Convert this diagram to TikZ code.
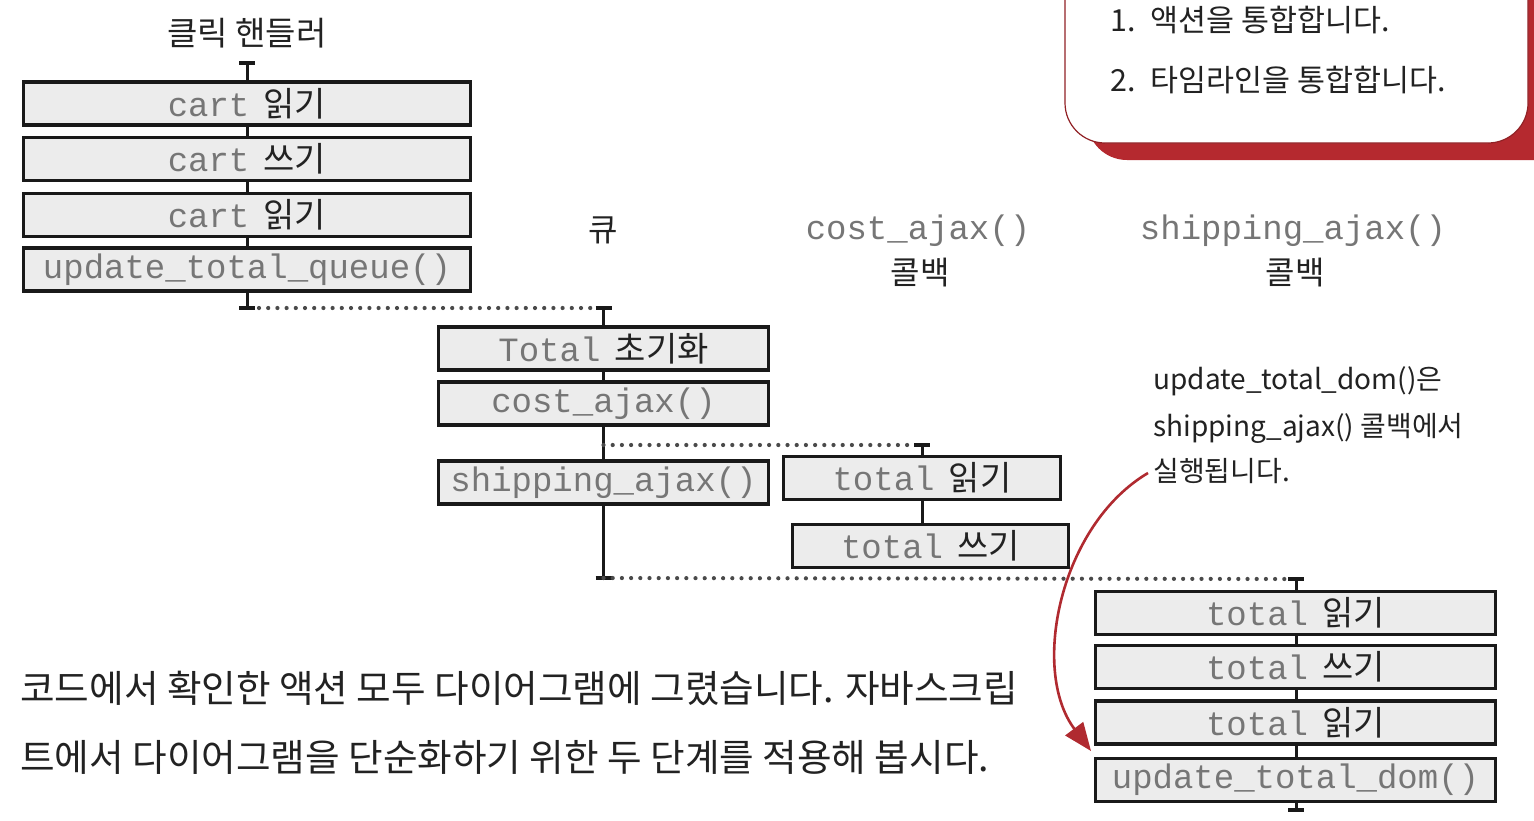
\documentclass[tikz,border=0pt]{standalone}
\usepackage{fontspec}
\setmainfont{Noto Sans CJK KR}
\setmonofont{Liberation Mono}
\usetikzlibrary{arrows.meta,calc}
\definecolor{boxgray}{HTML}{ECECEC}
\definecolor{monogray}{HTML}{767676}
\definecolor{dotgray}{HTML}{4A4A4A}
\definecolor{calloutred}{HTML}{B5292F}
\definecolor{arrowred}{HTML}{B02A30}
\definecolor{ink}{HTML}{222222}
\newcommand\mt[1]{{\ttfamily\color{monogray}#1}}
\newcommand\gap{\hspace{0.42em}}
\begin{document}
\begin{tikzpicture}[x=0.5pt,y=-0.5pt,
  act/.style={draw=black!90, line width=1.6pt, fill=boxgray, inner sep=0pt,
    minimum height=21.5pt, text=ink, font=\fontsize{17}{20}\selectfont},
  conn/.style={draw=black!90, line width=1.5pt},
  tickbar/.style={draw=black!90, line width=1.6pt},
  dots/.style={draw=dotgray, line width=2.1pt, line cap=round, dash pattern=on 0pt off 4.6pt},
  lbl/.style={text=ink, font=\fontsize{16}{19}\selectfont, inner sep=0pt},
  monolbl/.style={text=monogray, font=\fontsize{17}{20}\selectfont\ttfamily, inner sep=0pt},
  note/.style={text=ink, font=\fontsize{14}{16}\selectfont, inner sep=0pt, anchor=west},
  para/.style={text=ink, font=\fontsize{18.8}{22}\selectfont, inner sep=0pt, anchor=west},
  call/.style={text=ink, font=\fontsize{15.2}{18}\selectfont, inner sep=0pt, anchor=west},
  redarrow/.style={draw=arrowred, line width=1.3pt, -{Triangle[length=14pt,width=11pt]}}
]
\useasboundingbox (0,0) rectangle (1534,820);

% callout box (top right)
\fill[calloutred, rounded corners=20pt] (1087,-60) rectangle (1600,160);
\draw[calloutred!80!black, line width=0.6pt, fill=white, rounded corners=20pt] (1065,-60) rectangle (1528,143);
\node[call] (l1) at (1110,20) {1.\hspace{0.5em}액션을 통합합니다.};
\node[call] (l2) at (1110,80) {2.\hspace{0.5em}타임라인을 통합합니다.};

% click handler timeline
\node[lbl, font=\fontsize{16.5}{19}\selectfont] (title) at (247,33) {클릭 핸들러};
\coordinate (ch0) at (247,63);
\node[act, minimum width=223.5pt] (c1) at (247,103.5) {\mt{cart}\gap 읽기};
\node[act, minimum width=223.5pt] (c2) at (247,159) {\mt{cart}\gap 쓰기};
\node[act, minimum width=223.5pt] (c3) at (247,215) {\mt{cart}\gap 읽기};
\node[act, minimum width=223.5pt] (c4) at (247,269.5) {\mt{update\_total\_queue()}};
\coordinate (ch5) at (247,308);
\draw[conn] (ch0) -- (c1.north);
\draw[conn] (c1.south) -- (c2.north);
\draw[conn] (c2.south) -- (c3.north);
\draw[conn] (c3.south) -- (c4.north);
\draw[conn] (c4.south) -- (ch5);
\draw[tickbar] ($(ch0)+(-8,0)$) -- ($(ch0)+(8,0)$);
\draw[tickbar] ($(ch5)+(-8,0)$) -- ($(ch5)+(8,0)$);

% queue timeline
\node[lbl] (qlbl) at (603,230) {큐};
\coordinate (q0) at (603.5,308);
\node[act, minimum width=165pt] (q1) at (603.5,348.5) {\mt{Total}\gap 초기화};
\node[act, minimum width=165pt] (q2) at (603.5,403.5) {\mt{cost\_ajax()}};
\coordinate (qb) at (603.5,445);
\node[act, minimum width=165pt] (q3) at (603.5,482.5) {\mt{shipping\_ajax()}};
\coordinate (q4) at (603.5,578);
\draw[conn] (q0) -- (q1.north);
\draw[conn] (q1.south) -- (q2.north);
\draw[conn] (q2.south) -- (q3.north);
\draw[conn] (q3.south) -- (q4);
\draw[tickbar] ($(q0)+(-8,0)$) -- ($(q0)+(8,0)$);
\draw[tickbar] ($(q4)+(-8,0)$) -- ($(q4)+(8,0)$);

% cost_ajax callback timeline
\node[monolbl] (klbl) at (918,231) {cost\_ajax()};
\node[lbl] (klbl2) at (920,273) {콜백};
\coordinate (k0) at (922,445);
\node[act, minimum width=138.5pt] (k1) at (922,478) {\mt{total}\gap 읽기};
\node[act, minimum width=138pt] (k2) at (930.5,546) {\mt{total}\gap 쓰기};
\draw[conn] (k0) -- (k1.north);
\draw[conn] (k1.south) -- (k1.south |- k2.north);
\draw[tickbar] ($(k0)+(-8,0)$) -- ($(k0)+(8,0)$);

% shipping_ajax callback timeline
\node[monolbl] (slbl) at (1293,231) {shipping\_ajax()};
\node[lbl] (slbl2) at (1295,273) {콜백};
\coordinate (s0) at (1296,579);
\node[act, minimum width=200pt] (s1) at (1295.5,613) {\mt{total}\gap 읽기};
\node[act, minimum width=200pt] (s2) at (1295.5,667) {\mt{total}\gap 쓰기};
\node[act, minimum width=200pt] (s3) at (1295.5,722.5) {\mt{total}\gap 읽기};
\node[act, minimum width=200pt] (s4) at (1295.5,780) {\mt{update\_total\_dom()}};
\coordinate (s5) at (1296,810);
\draw[conn] (s0) -- (s0 |- s1.north);
\draw[conn] (s0 |- s1.south) -- (s0 |- s2.north);
\draw[conn] (s0 |- s2.south) -- (s0 |- s3.north);
\draw[conn] (s0 |- s3.south) -- (s0 |- s4.north);
\draw[conn] (s0 |- s4.south) -- (s5);
\draw[tickbar] ($(s0)+(-8,0)$) -- ($(s0)+(8,0)$);
\draw[tickbar] ($(s5)+(-8,0)$) -- ($(s5)+(8,0)$);

% dotted hand-offs
\draw[dots] ($(ch5)+(12,0)$) -- ($(q0)+(-9,0)$);
\draw[dots] (qb) -- ($(k0)+(-9,0)$);
\draw[dots] (q4) -- ($(s0)+(-9,0)$);

% annotation
\node[note] (n1) at (1153,381) {update\_total\_dom()은};
\node[note] (n2) at (1153,428) {shipping\_ajax() 콜백에서};
\node[note] (n3) at (1153,471) {실행됩니다.};
\coordinate (a1) at (1091,751);
\draw[redarrow] ($(n3.west)+(-5,2)$) .. controls (1060,525) and (1030,670) .. (a1);

% paragraph
\node[para] (p1) at (20,688) {코드에서 확인한 액션 모두 다이어그램에 그렸습니다. 자바스크립};
\node[para] (p2) at (20,757) {트에서 다이어그램을 단순화하기 위한 두 단계를 적용해 봅시다.};
\end{tikzpicture}
\end{document}
